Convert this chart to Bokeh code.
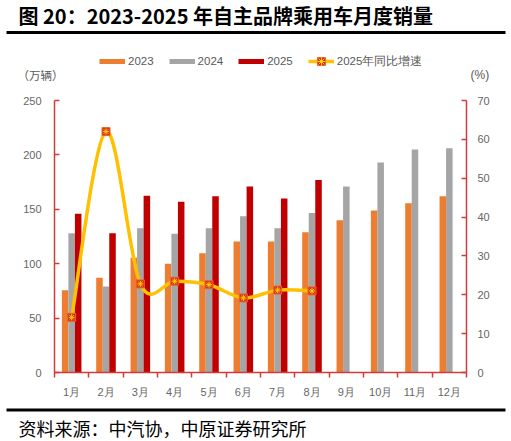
import numpy as np
from bokeh.plotting import figure
from bokeh.models import (Range1d, LinearAxis, FixedTicker, Label, BoxAnnotation,
                          Legend, LegendItem, ColumnDataSource)
from bokeh.transform import dodge
from bokeh.embed import file_html
from bokeh.resources import INLINE

# ---- data ----
months = ["1月", "2月", "3月", "4月", "5月", "6月", "7月", "8月", "9月", "10月", "11月", "12月"]
sales_2023 = [75.5, 87, 105.5, 100, 109.5, 120.5, 120.5, 129, 140, 149, 155.5, 162]
sales_2024 = [128, 79, 132.5, 127.5, 132.5, 143.5, 132.5, 146.5, 171, 193, 205, 206]
sales_2025 = [146, 128, 162.5, 157, 162, 171, 160, 177]
growth_2025 = [14.2, 62.0, 22.8, 23.5, 22.6, 19.2, 21.2, 21.0]
left_ticks = [0, 50, 100, 150, 200, 250]
right_ticks = [0, 10, 20, 30, 40, 50, 60, 70]

C23 = "#ED7D31"
C24 = "#A5A5A5"
C25 = "#C00000"
CLINE = "#FFC000"
AXIS_RED = "#D33A3A"
LABEL_GRAY = "#666666"

# ---- layout (pixels): the frame covers the whole canvas ----
W, H = 510, 440
PL, PR, PT, PB = 54, 466, 100, 372          # plot area edges on the page
LMAX, RMAX = 250, 70
nm = len(months)
ppx = (PR - PL) / nm
ppl = (PB - PT) / LMAX
ppr = (PB - PT) / RMAX

x_idx = list(range(1, nm + 1))
x25 = list(range(1, len(sales_2025) + 1))

p = figure(width=W, height=H, output_backend="svg", toolbar_location=None, title=None,
           x_range=Range1d(0.5 - PL / ppx, 0.5 + (W - PL) / ppx),
           y_range=Range1d(-(H - PB) / ppl, PB / ppl),
           min_border=0, x_axis_location=None, y_axis_location=None)
p.extra_y_ranges = {"pct": Range1d(-(H - PB) / ppr, PB / ppr)}
p.grid.visible = False
p.outline_line_color = None
p.background_fill_color = "white"
p.border_fill_color = "white"

bw = 0.19
src23 = ColumnDataSource(dict(x=x_idx, top=sales_2023))
src24 = ColumnDataSource(dict(x=x_idx, top=sales_2024))
src25 = ColumnDataSource(dict(x=x25, top=sales_2025))
p.vbar(x=dodge('x', -bw, range=p.x_range), top='top', width=bw, source=src23,
       fill_color=C23, line_color=None)
p.vbar(x=dodge('x', 0, range=p.x_range), top='top', width=bw, source=src24,
       fill_color=C24, line_color=None)
p.vbar(x=dodge('x', bw, range=p.x_range), top='top', width=bw, source=src25,
       fill_color=C25, line_color=None)

# smooth (Catmull-Rom -> Bezier) growth line, rendered from the data points
gx = np.array(x25, dtype=float)
gy = np.array(growth_2025, dtype=float)
n = len(gx)
qx = np.concatenate([[gx[0]], gx, [gx[-1]]])
qy = np.concatenate([[gy[0]], gy, [gy[-1]]])
bx0, by0 = qx[1:n], qy[1:n]
bx1, by1 = qx[2:n + 1], qy[2:n + 1]
cx0 = qx[1:n] + (qx[2:n + 1] - qx[:n - 1]) / 6
cy0 = qy[1:n] + (qy[2:n + 1] - qy[:n - 1]) / 6
cx1 = qx[2:n + 1] - (qx[3:n + 2] - qx[1:n]) / 6
cy1 = qy[2:n + 1] - (qy[3:n + 2] - qy[1:n]) / 6
p.bezier(x0=bx0, y0=by0, x1=bx1, y1=by1, cx0=cx0, cy0=cy0, cx1=cx1, cy1=cy1,
         y_range_name="pct", line_color=CLINE, line_width=3.5)
gsrc = ColumnDataSource(dict(x=x25, y=growth_2025))
p.scatter('x', 'y', source=gsrc, y_range_name="pct", marker="square", size=8,
          fill_color="#D9301E", line_color="#E8662A", line_width=1)
p.scatter('x', 'y', source=gsrc, y_range_name="pct", marker="asterisk", size=6,
          line_color="#FFD000", line_width=1)


def style_axis(ax, standoff):
    ax.axis_line_color = AXIS_RED
    ax.axis_line_width = 1.5
    ax.major_label_text_font = "Liberation Sans"
    ax.major_label_text_font_size = "11px"
    ax.major_label_text_color = LABEL_GRAY
    ax.major_label_standoff = standoff
    ax.major_tick_line_color = AXIS_RED
    ax.major_tick_line_width = 1.5


# x axis at y = 0
xa = LinearAxis(fixed_location=0, bounds=(0.5, nm + 0.5),
                ticker=FixedTicker(ticks=x_idx, minor_ticks=[i - 0.5 for i in x_idx] + [nm + 0.5]))
style_axis(xa, 8)
xa.major_label_overrides = {i: m for i, m in zip(x_idx, months)}
xa.major_tick_out = 0
xa.major_tick_in = 0
xa.minor_tick_out = 5
xa.minor_tick_in = 0
xa.minor_tick_line_color = AXIS_RED
xa.minor_tick_line_width = 1.5
p.add_layout(xa, "below")

ya = LinearAxis(fixed_location=0.5, bounds=(0, LMAX), ticker=FixedTicker(ticks=left_ticks))
style_axis(ya, 13)
ya.minor_tick_line_color = None
ya.major_tick_out = 0
ya.major_tick_in = 5
p.add_layout(ya, "left")

ra = LinearAxis(y_range_name="pct", fixed_location=nm + 0.5, bounds=(0, RMAX),
                ticker=FixedTicker(ticks=right_ticks))
style_axis(ra, 11)
ra.minor_tick_line_color = None
ra.major_tick_out = 0
ra.major_tick_in = 5
p.add_layout(ra, "right")

# legend (hidden one-point renderers used only for the legend swatches)
nan_src = ColumnDataSource(dict(x=[np.nan], y=[np.nan]))
d23 = p.line('x', 'y', source=nan_src, line_color=C23, line_width=5)
d24 = p.line('x', 'y', source=nan_src, line_color=C24, line_width=5)
d25 = p.line('x', 'y', source=nan_src, line_color=C25, line_width=5)
dl = p.line('x', 'y', source=nan_src, line_color=CLINE, line_width=3.5)
dm = p.scatter('x', 'y', source=nan_src, marker="square", size=8,
               fill_color="#D9301E", line_color="#E8662A")
da = p.scatter('x', 'y', source=nan_src, marker="asterisk", size=6, line_color="#FFD000")
legend = Legend(items=[LegendItem(label="2023", renderers=[d23]),
                       LegendItem(label="2024", renderers=[d24]),
                       LegendItem(label="2025", renderers=[d25]),
                       LegendItem(label="2025年同比增速", renderers=[dl, dm, da])],
                orientation="horizontal", location=(99, H - 71),
                glyph_width=26, glyph_height=20, label_standoff=3, spacing=15,
                padding=0, margin=0, border_line_color=None, background_fill_alpha=0,
                label_text_font="Liberation Sans", label_text_font_size="11.5px",
                label_text_color="#595959")
p.add_layout(legend, "center")


def scr(**kw):
    return dict(x_units="screen", y_units="screen", **kw)


# title, rules, source, units (screen units: from canvas bottom-left)
p.add_layout(Label(**scr(x=18, y=H - 15), text="图 20：2023-2025 年自主品牌乘用车月度销量",
                   text_font="Noto Sans CJK SC", text_font_style="bold",
                   text_font_size="20px", text_color="black", text_baseline="middle"))
p.add_layout(BoxAnnotation(left=6, right=505, bottom=H - 33.5, top=H - 30.5,
                           left_units="screen", right_units="screen",
                           bottom_units="screen", top_units="screen",
                           fill_color="black", fill_alpha=1, line_color=None))
p.add_layout(BoxAnnotation(left=6, right=505, bottom=H - 411, top=H - 408,
                           left_units="screen", right_units="screen",
                           bottom_units="screen", top_units="screen",
                           fill_color="black", fill_alpha=1, line_color=None))
p.add_layout(Label(**scr(x=18, y=H - 427), text="资料来源：中汽协，中原证券研究所",
                   text_font="Noto Sans CJK SC", text_font_size="18px",
                   text_color="black", text_baseline="middle"))
p.add_layout(Label(**scr(x=17, y=H - 74), text="（万辆）",
                   text_font="Noto Sans CJK SC", text_font_size="11.5px",
                   text_color="#595959", text_baseline="middle"))
p.add_layout(Label(**scr(x=470, y=H - 74), text="(%)",
                   text_font="Liberation Sans", text_font_size="12px",
                   text_color="#595959", text_baseline="middle"))

open("out.html", "w").write(file_html(p, INLINE))
